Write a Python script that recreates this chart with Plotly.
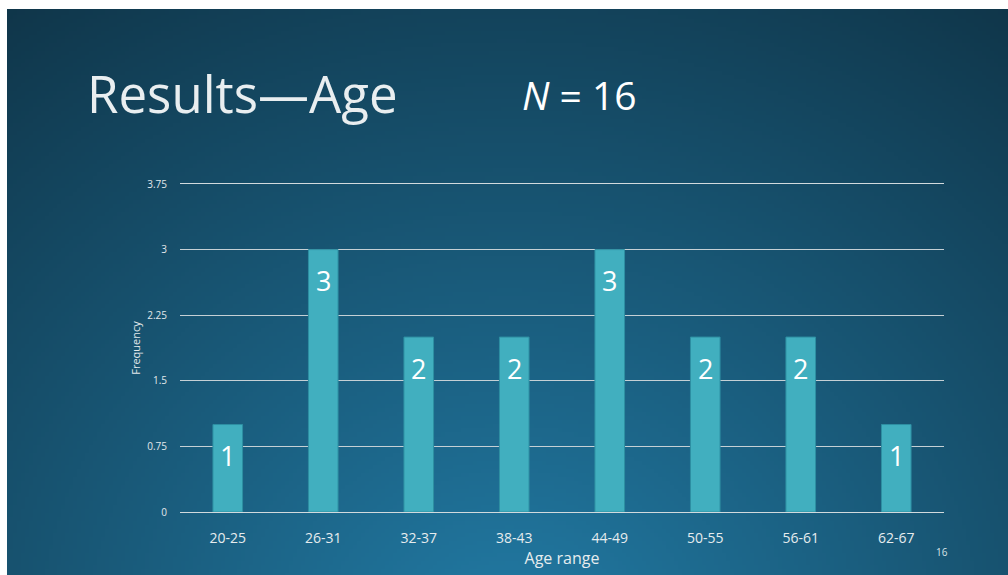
import base64, struct, zlib
import numpy as np
import plotly.graph_objects as go

# ---- data ----
age_ranges = ["20-25", "26-31", "32-37", "38-43", "44-49", "50-55", "56-61", "62-67"]
frequency = [1, 3, 2, 2, 3, 2, 2, 1]
y_ticks = [0, 0.75, 1.5, 2.25, 3, 3.75]
y_tick_text = ["0", "0.75", "1.5", "2.25", "3", "3.75"]

W, H = 1008, 575
L, R, T, B = 180, 944, 184, 512  # plot area in pixels
PW, PH = R - L, B - T

# ---- background gradient image (slide) ----
def png_data_uri(arr):
    h, w, _ = arr.shape
    raw = b"".join(b"\x00" + arr[i].tobytes() for i in range(h))
    def chunk(t, d):
        c = struct.pack(">I", len(d)) + t + d
        return c + struct.pack(">I", zlib.crc32(t + d) & 0xFFFFFFFF)
    png = b"\x89PNG\r\n\x1a\n" + chunk(b"IHDR", struct.pack(">IIBBBBB", w, h, 8, 2, 0, 0, 0)) \
        + chunk(b"IDAT", zlib.compress(raw, 9)) + chunk(b"IEND", b"")
    return "data:image/png;base64," + base64.b64encode(png).decode()

sx0, sy0 = 7, 9
sw, sh = W - sx0, H - sy0
gw, gh = 250, 141
xs = np.linspace(sx0, W, gw)[None, :]
ys = np.linspace(sy0, H, gh)[:, None]
d = np.sqrt((xs - 510) ** 2 + ((ys - 640) * 1.1) ** 2)
t = np.clip(d / 900.0, 0, 1)
inner = np.array([0x22, 0x7b, 0xa5], float)
outer = np.array([0x0f, 0x33, 0x46], float)
img = inner[None, None, :] * (1 - t[..., None]) + outer[None, None, :] * t[..., None]
img = np.clip(img, 0, 255).astype(np.uint8)
bg_uri = png_data_uri(img)

fig = go.Figure()
fig.add_trace(go.Bar(
    x=age_ranges, y=frequency,
    marker=dict(color="#41afbf", line=dict(color="#2e8fa2", width=1)),
    width=0.31, hoverinfo="skip",
))

for cat, v in zip(age_ranges, frequency):
    fig.add_annotation(x=cat, y=v, yshift=-31, text=str(v), showarrow=False,
                       font=dict(family="Open Sans", size=27, color="white"))

fig.add_layout_image(dict(
    source=bg_uri, xref="paper", yref="paper",
    x=(sx0 - L) / PW, y=1 + (T - sy0) / PH,
    sizex=sw / PW, sizey=sh / PH,
    xanchor="left", yanchor="top", sizing="stretch", layer="below",
))

fig.add_annotation(xref="paper", yref="paper", x=(85 - L) / PW, y=1 + (T - 93) / PH,
                   xanchor="left", yanchor="middle", showarrow=False,
                   text="Results\u2014Age",
                   font=dict(family="Open Sans", size=51, color="#e9eef0"))
fig.add_annotation(xref="paper", yref="paper", x=(520 - L) / PW, y=1 + (T - 94) / PH,
                   xanchor="left", yanchor="middle", showarrow=False,
                   text="<i>N</i> = 16",
                   font=dict(family="Open Sans", size=39, color="white"))
fig.add_annotation(xref="paper", yref="paper", x=(942 - L) / PW, y=1 + (T - 552) / PH,
                   xanchor="center", yanchor="middle", showarrow=False,
                   text="16", font=dict(family="Open Sans", size=10, color="#d8e2e6"))

fig.update_layout(
    width=W, height=H,
    margin=dict(l=L, r=W - R, t=T, b=H - B, pad=0),
    paper_bgcolor="white", plot_bgcolor="rgba(0,0,0,0)",
    showlegend=False,
    font=dict(family="Open Sans", color="#e2e8eb"),
    xaxis=dict(
        showgrid=False, zeroline=False,
        showline=True, mirror=True, linecolor="#d2dadd", linewidth=1,
        ticks="outside", ticklen=13, tickcolor="rgba(0,0,0,0)",
        tickfont=dict(size=14, color="#e6ecee"),
        title=dict(text="Age range", font=dict(size=16, color="#e6ecee"), standoff=2),
    ),
    yaxis=dict(
        range=[0, 3.75], tickvals=y_ticks, ticktext=y_tick_text,
        showgrid=True, gridcolor="#c5d0d5", gridwidth=1,
        zeroline=False, showline=False,
        ticks="outside", ticklen=10, tickcolor="rgba(0,0,0,0)",
        tickfont=dict(size=10, color="#e2e8eb"),
        title=dict(text="Frequency", font=dict(size=11, color="#e2e8eb"), standoff=4),
    ),
)

fig.write_html("out.html")
